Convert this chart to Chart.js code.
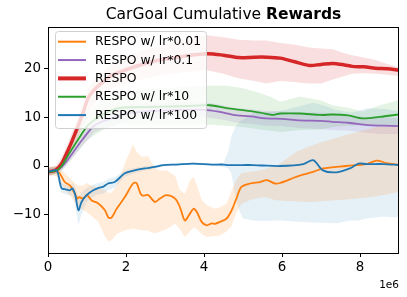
<!DOCTYPE html>
<html>
<head>
<meta charset="utf-8">
<script src="https://cdn.jsdelivr.net/npm/chart.js@4"></script>
<style>
  html, body { margin: 0; padding: 0; background: #fff; }
  #wrap { width: 407px; height: 297px; }
</style>
</head>
<body>
<div id="wrap"><canvas id="rewardChart" width="407" height="297"></canvas></div>
<script>
// env steps are in millions (axis offset label "1e6")
const xTicks = [0, 2, 4, 6, 8];
const yTicks = [-10, 0, 10, 20];

// RESPO w/ lr*0.01
const orangeSteps = [0, 0.2, 0.3, 0.43, 0.56, 0.69, 0.75, 0.8, 0.9, 1.0, 1.12, 1.29, 1.46, 1.55, 1.63, 1.76, 1.97, 2.18, 2.27, 2.4, 2.57, 2.74, 2.87, 3.04, 3.26, 3.38, 3.51, 3.64, 3.73, 3.82, 3.94, 4.07, 4.2, 4.28, 4.41, 4.58, 4.71, 4.83, 4.96, 5.18, 5.44, 5.61, 5.82, 5.95, 6.38, 6.8, 7.05, 7.65, 8.17, 8.43, 8.68, 9.0];
const orangeMean = [-1.2, -1.0, -1.5, -3.3, -4.0, -5.7, -6.7, -6.4, -6.7, -6.0, -7.1, -7.7, -9.1, -10.6, -10.6, -8.8, -6.4, -3.6, -3.5, -6.0, -6.0, -7.4, -6.7, -6.0, -6.7, -8.4, -11.2, -9.8, -8.8, -9.5, -11.5, -12.2, -11.8, -11.9, -11.5, -10.8, -9.1, -6.7, -4.3, -3.6, -3.3, -2.9, -3.6, -3.5, -2.2, -1.2, -0.5, 0.0, 0.4, 1.1, 0.6, 0.2];
const orangeHigh = [-0.3, 0, -0.5, -1.5, -2.5, -3.5, -4, -4, -4, -3.5, -4, -4.5, -5, -5.5, -5.5, -4, 0.5, 4.5, 3, 1.9, 2, -0.5, -0.9, -0.9, -2, -5, -5.7, -3, -2.2, -4, -7, -8, -8.5, -8.8, -8.5, -7.7, -5, -2.9, -1.5, -1.2, -0.9, -0.5, 0, 0.5, 3, 4.3, 5, 6.4, 7.5, 8, 8.1, 8.1];
const orangeLow = [-2, -2, -3, -5, -6, -7.5, -8.4, -8.4, -9, -9.5, -10.3, -11.5, -14.5, -15.5, -15.3, -14, -13.2, -12.9, -13, -13.2, -13.3, -13.9, -13.5, -13, -11.9, -13, -14.6, -13.5, -12.6, -13, -14, -14.6, -14.5, -14.4, -14.3, -13.5, -12.3, -9.5, -7.8, -7, -6.5, -6.5, -7, -7.1, -7.3, -7.4, -7.2, -6.9, -6.5, -6.2, -5.8, -5.3];

// RESPO w/ lr*0.1
const purpleSteps = [0, 0.22, 0.35, 0.5, 0.87, 1.2, 1.63, 2.06, 2.6, 3.2, 3.6, 4.07, 4.5, 4.75, 5.2, 5.6, 6.0, 6.46, 7.0, 7.3, 7.7, 8.2, 8.6, 9.0];
const purpleMean = [-1.2, -0.9, -0.2, 1.2, 5.3, 8.4, 9.8, 10.8, 11.3, 11.5, 11.6, 11.5, 11.0, 10.5, 10.2, 9.8, 9.7, 9.4, 9.3, 9.1, 8.9, 8.4, 8.3, 8.2];
const purpleHigh = [-0.5, -0.3, 0.5, 2.2, 6.5, 9.8, 11.3, 12.3, 12.8, 13, 13.2, 13, 12.5, 12, 11.7, 11.3, 11.2, 11, 11, 10.8, 10.5, 10, 10, 9.8];
const purpleLow = [-2, -1.5, -0.9, 0.3, 4, 7, 8.3, 9.3, 9.8, 10, 10, 10, 9.5, 9, 8.7, 8.3, 8.2, 7.8, 7.6, 7.4, 7.3, 6.8, 6.6, 6.6];

// RESPO
const redSteps = [0, 0.2, 0.35, 0.5, 0.6, 0.78, 0.9, 1.03, 1.2, 1.4, 1.64, 2.0, 2.49, 3.0, 3.5, 4.08, 4.5, 4.9, 5.3, 5.6, 5.95, 6.3, 6.7, 7.0, 7.3, 7.6, 7.8, 8.1, 8.4, 8.7, 9.0];
const redMean = [-1.2, -0.8, 0.5, 3.0, 4.8, 8.4, 11.0, 14.0, 15.8, 17.2, 18.7, 19.8, 21.1, 22.0, 22.6, 23.1, 22.8, 22.3, 22.4, 22.4, 22.2, 21.5, 20.7, 20.9, 21.1, 20.8, 20.5, 20.4, 20.1, 20.0, 19.7];
const redHigh = [-0.3, 0, 1.8, 4.5, 6.5, 10.5, 13, 16, 18, 19.5, 21, 22.5, 24, 25, 26, 26.9, 26.5, 26, 25.8, 25.8, 25.3, 25, 24.4, 24.2, 24, 23.2, 22.8, 22.3, 21.8, 21, 20.3];
const redLow = [-2, -1.5, -0.5, 1.5, 3, 6, 8.5, 11, 13, 14.5, 16, 17, 18, 18.8, 19.3, 19.7, 19, 18, 17.5, 17, 17.5, 17.3, 17, 17, 17.8, 18.5, 19, 19.1, 19, 18.8, 18.5];

// RESPO w/ lr*10
const greenSteps = [0, 0.22, 0.35, 0.5, 0.76, 1.03, 1.38, 1.8, 2.3, 2.87, 3.5, 4.15, 4.58, 5.0, 5.44, 5.78, 5.95, 6.46, 7.0, 7.3, 7.7, 8.08, 8.5, 9.0];
const greenMean = [-1.2, -0.9, 0.0, 2.0, 5.3, 8.4, 10.5, 11.9, 12.1, 12.2, 12.3, 12.5, 11.9, 11.5, 11.0, 10.5, 10.8, 10.8, 10.5, 10.6, 10.4, 9.8, 10.1, 10.6];
const greenHigh = [-0.3, 0, 1.2, 3.5, 7.5, 11, 13.5, 15, 15.5, 16, 16.3, 16.5, 16.5, 16, 15, 14, 13.2, 14.3, 13.5, 12.5, 12, 11.2, 12.5, 13.6];
const greenLow = [-2, -1.8, -1, 0.5, 3, 5.5, 7.3, 8.5, 8.5, 8.5, 8.5, 8.5, 8.3, 8, 7.5, 7.2, 7, 7.4, 7.5, 8, 8.3, 8.4, 8.3, 8.1];

// RESPO w/ lr*100
const blueSteps = [0, 0.22, 0.31, 0.35, 0.45, 0.56, 0.63, 0.7, 0.78, 0.86, 0.99, 1.16, 1.3, 1.41, 1.54, 1.71, 1.97, 2.22, 2.48, 2.74, 2.96, 3.3, 3.72, 4.2, 4.5, 4.62, 4.7, 4.8, 4.9, 5.0, 5.25, 5.5, 5.95, 6.55, 6.8, 7.05, 7.4, 7.74, 7.96, 8.17, 8.6, 9.0];
const blueMean = [-1.2, -0.9, -3.6, -4.6, -4.8, -5.0, -4.6, -6.0, -9.1, -7.4, -6.0, -5.0, -4.5, -4.3, -3.6, -3.3, -1.5, -0.9, -0.5, -0.2, 0.2, 0.3, 0.5, 0.3, 0.3, 0.2, 0.2, 0.2, 0.2, 0.2, 0.2, 0.1, 0.0, 0.4, 1.2, -0.9, -1.3, -0.5, 0.5, 0.4, 0.4, 0.2];
const blueHigh = [-0.3, -0.3, -2.5, -3.5, -3.8, -4, -3.5, -4.5, -6.3, -5.5, -4.5, -3.8, -3.5, -3.3, -2.7, -2.3, -0.9, -0.4, -0.1, 0.1, 0.4, 0.5, 0.7, 0.5, 0.6, 3, 6, 8, 9, 9.5, 10.8, 11, 11.3, 12.5, 13, 12.5, 11.5, 11, 11.3, 11.9, 11.8, 11.3];
const blueLow = [-2, -1.5, -4.5, -5.5, -5.8, -6, -6, -8, -12.2, -10, -7.5, -6.3, -5.8, -5.7, -5, -4.5, -2.2, -1.5, -1, -0.5, -0.1, 0.1, 0.3, 0.1, -0.2, -0.5, -1.5, -6, -9, -10.8, -11.2, -11.3, -11.2, -11.5, -11.6, -11.7, -11.8, -11.2, -11.2, -10.8, -10.4, -10.6];

const FONT = '"DejaVu Sans", sans-serif';

function pts(xs, ys) {
    return xs.map((x, i) => ({ x: x, y: ys[i] }));
}

// each run: mean line plus a shaded band between low and high
const runs = [
    { label: 'RESPO w/ lr*0.01', color: '255,127,14', width: 1.8, alpha: 0.15, steps: orangeSteps, mean: orangeMean, low: orangeLow, high: orangeHigh, order: 5 },
    { label: 'RESPO w/ lr*0.1', color: '148,103,189', width: 1.8, alpha: 0.15, steps: purpleSteps, mean: purpleMean, low: purpleLow, high: purpleHigh, order: 4 },
    { label: 'RESPO', color: '214,39,40', width: 3.5, alpha: 0.15, steps: redSteps, mean: redMean, low: redLow, high: redHigh, order: 3 },
    { label: 'RESPO w/ lr*10', color: '44,160,44', width: 1.8, alpha: 0.12, steps: greenSteps, mean: greenMean, low: greenLow, high: greenHigh, order: 2 },
    { label: 'RESPO w/ lr*100', color: '31,119,180', width: 1.8, alpha: 0.11, steps: blueSteps, mean: blueMean, low: blueLow, high: blueHigh, order: 1 }
];

const datasets = [];
runs.forEach((r, k) => {
    // band: low first, high fills down to it
    datasets.push({
        data: pts(r.steps, r.low), borderWidth: 0, pointRadius: 0, fill: false,
        borderColor: 'rgba(0,0,0,0)', order: 20 + k, isBand: true
    });
    datasets.push({
        data: pts(r.steps, r.high), borderWidth: 0, pointRadius: 0, fill: '-1',
        borderColor: 'rgba(0,0,0,0)', backgroundColor: 'rgba(' + r.color + ',' + r.alpha + ')',
        order: 20 + k, isBand: true
    });
});
runs.forEach(r => {
    datasets.push({
        label: r.label, data: pts(r.steps, r.mean), borderColor: 'rgb(' + r.color + ')',
        borderWidth: r.width, pointRadius: 0, fill: false, tension: 0.3,
        borderJoinStyle: 'round', borderCapStyle: 'round', order: r.order
    });
});

// title with bold last word, frame, axis offset text and in-plot legend
const decorPlugin = {
    id: 'decor',
    afterDatasetsDraw(chart) {
        const ctx = chart.ctx, a = chart.chartArea;
        ctx.save();
        ctx.strokeStyle = '#000';
        ctx.lineWidth = 1;
        ctx.strokeRect(a.left + 0.5, a.top + 0.5, a.right - a.left - 1, a.bottom - a.top);
        ctx.restore();
    },
    afterDraw(chart) {
        const ctx = chart.ctx, a = chart.chartArea;
        ctx.save();
        // title
        const part1 = 'CarGoal Cumulative ', part2 = 'Rewards';
        ctx.font = '15.5px ' + FONT;
        const w1 = ctx.measureText(part1).width;
        ctx.font = 'bold 15.5px ' + FONT;
        const w2 = ctx.measureText(part2).width;
        const cx = (a.left + a.right) / 2;
        let tx = cx - (w1 + w2) / 2;
        ctx.fillStyle = '#000';
        ctx.textBaseline = 'alphabetic';
        ctx.font = '15.5px ' + FONT;
        ctx.fillText(part1, tx, 19);
        ctx.font = 'bold 15.5px ' + FONT;
        ctx.fillText(part2, tx + w1, 19);

        // offset text
        ctx.font = '10.5px ' + FONT;
        ctx.textAlign = 'right';
        ctx.fillText('1e6', a.right, 288);

        // legend box
        const bx = 55.5, by = 31.5, bw = 151, bh = 97, rad = 3;
        ctx.beginPath();
        ctx.moveTo(bx + rad, by);
        ctx.arcTo(bx + bw, by, bx + bw, by + bh, rad);
        ctx.arcTo(bx + bw, by + bh, bx, by + bh, rad);
        ctx.arcTo(bx, by + bh, bx, by, rad);
        ctx.arcTo(bx, by, bx + bw, by, rad);
        ctx.closePath();
        ctx.fillStyle = 'rgba(255,255,255,0.8)';
        ctx.fill();
        ctx.strokeStyle = '#d0d0d0';
        ctx.lineWidth = 1;
        ctx.stroke();

        ctx.textAlign = 'left';
        ctx.textBaseline = 'middle';
        ctx.font = '12.4px ' + FONT;
        runs.forEach((r, i) => {
            const y = 41.7 + i * 18.35;
            ctx.beginPath();
            ctx.moveTo(58, y);
            ctx.lineTo(86, y);
            ctx.strokeStyle = 'rgb(' + r.color + ')';
            ctx.lineWidth = r.width === 3.5 ? 4 : 2;
            ctx.stroke();
            ctx.fillStyle = '#000';
            ctx.fillText(r.label, 95, y + 0.5);
        });
        ctx.restore();
    }
};

const ctx = document.getElementById('rewardChart').getContext('2d');
new Chart(ctx, {
    type: 'line',
    data: { datasets: datasets },
    options: {
        responsive: false,
        animation: false,
        events: [],
        layout: { padding: { top: 27, right: 8, left: 0, bottom: 0 } },
        plugins: {
            legend: { display: false },
            title: { display: false },
            tooltip: { enabled: false }
        },
        scales: {
            x: {
                type: 'linear', min: 0, max: 9,
                afterFit: s => { s.height = 44; },
                afterBuildTicks: s => { s.ticks = xTicks.map(v => ({ value: v })); },
                grid: { drawOnChartArea: false, drawTicks: true, tickLength: 4, color: '#000', tickColor: '#000' },
                border: { display: false },
                ticks: { color: '#000', font: { family: FONT, size: 13.4 }, padding: 2, maxRotation: 0 }
            },
            y: {
                type: 'linear', min: -17.9, max: 28.6,
                afterFit: s => { s.width = 48; },
                afterBuildTicks: s => { s.ticks = yTicks.map(v => ({ value: v })); },
                grid: { drawOnChartArea: false, drawTicks: true, tickLength: 4, color: '#000', tickColor: '#000' },
                border: { display: false },
                ticks: { color: '#000', font: { family: FONT, size: 13.4 }, padding: 3,
                    callback: v => (v < 0 ? '\u2212' + Math.abs(v) : String(v)) }
            }
        }
    },
    plugins: [decorPlugin]
});
</script>
</body>
</html>
